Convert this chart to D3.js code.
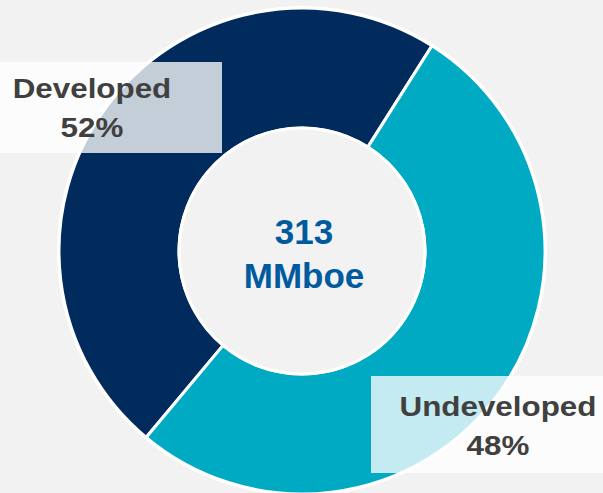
<!DOCTYPE html>
<html>
<head>
<meta charset="utf-8">
<script src="https://cdn.jsdelivr.net/npm/d3@7"></script>
<style>
    html, body { margin: 0; padding: 0; background: #f2f2f2; }
    svg { display: block; font-family: "Liberation Sans", Arial, sans-serif; }
</style>
</head>
<body>
<svg id="chart"></svg>
<script>
const categories = ["Developed", "Undeveloped"];
// percentages printed on the labels
const shares = [52, 48];
// slice sizes as drawn in the picture (navy arc ~172.6deg, teal ~187.4deg)
const sliceShares = [47.9, 52.1];
const totalLines = ["313", "MMboe"];

const width = 603, height = 493;
const cx = 302, cy = 251;
const outerR = 243, innerR = 123;
const startDeg = 219.9;

const colors = d3.scaleOrdinal()
        .domain(categories)
        .range(["#002b5c", "#00aac2"]);

const svg = d3.select("#chart")
        .attr("width", width)
        .attr("height", height)
        .attr("viewBox", `0 0 ${width} ${height}`);

svg.append("rect")
        .attr("width", width)
        .attr("height", height)
        .attr("fill", "#f2f2f2");

const data = categories.map((c, i) => ({ key: c, value: shares[i], size: sliceShares[i] }));

const start = startDeg * Math.PI / 180;
const pie = d3.pie()
        .sort(null)
        .value(d => d.size)
        .startAngle(start)
        .endAngle(start + 2 * Math.PI);

const arc = d3.arc().innerRadius(innerR).outerRadius(outerR);

const g = svg.append("g")
        .attr("transform", `translate(${cx}, ${cy})`);

// white ring behind gives the outer edge outline
g.append("circle")
        .attr("r", outerR + 2)
        .attr("fill", "#fff");

g.selectAll("path.slice")
        .data(pie(data))
        .join("path")
        .attr("class", "slice")
        .attr("d", arc)
        .attr("fill", d => colors(d.data.key))
        .attr("stroke", "#fff")
        .attr("stroke-width", 3);

g.append("circle")
        .attr("r", innerR)
        .attr("fill", "#f2f2f2")
        .attr("stroke", "#fff")
        .attr("stroke-width", 3);

// center total
g.append("text")
        .attr("text-anchor", "middle")
        .attr("fill", "#005a9e")
        .attr("font-weight", "bold")
        .attr("font-size", 35)
        .selectAll("tspan")
        .data(totalLines)
        .join("tspan")
        .attr("x", 2)
        .attr("y", (d, i) => -7 + i * 44)
        .text(d => d);

// label boxes
const labels = [
        { box: [0, 62, 222, 91], tx: 92, ty: 98 },
        { box: [371, 376, 240, 97], tx: 498, ty: 416 }
];

const lab = svg.selectAll("g.label")
        .data(data)
        .join("g")
        .attr("class", "label");

lab.append("rect")
        .attr("x", (d, i) => labels[i].box[0])
        .attr("y", (d, i) => labels[i].box[1])
        .attr("width", (d, i) => labels[i].box[2])
        .attr("height", (d, i) => labels[i].box[3])
        .attr("fill", "#fff")
        .attr("fill-opacity", 0.77);

const txt = lab.append("text")
        .attr("text-anchor", "middle")
        .attr("fill", "#404040")
        .attr("font-weight", "bold")
        .attr("font-size", 28);

txt.append("tspan")
        .attr("x", (d, i) => labels[i].tx)
        .attr("y", (d, i) => labels[i].ty)
        .text(d => d.key);

txt.append("tspan")
        .attr("x", (d, i) => labels[i].tx)
        .attr("y", (d, i) => labels[i].ty + 39)
        .text(d => d.value + "%");

// the source font runs a little wider than Liberation
txt.selectAll("tspan").each(function () {
        const w = this.getComputedTextLength();
        d3.select(this).attr("textLength", w * 1.12).attr("lengthAdjust", "spacingAndGlyphs");
});
</script>
</body>
</html>
